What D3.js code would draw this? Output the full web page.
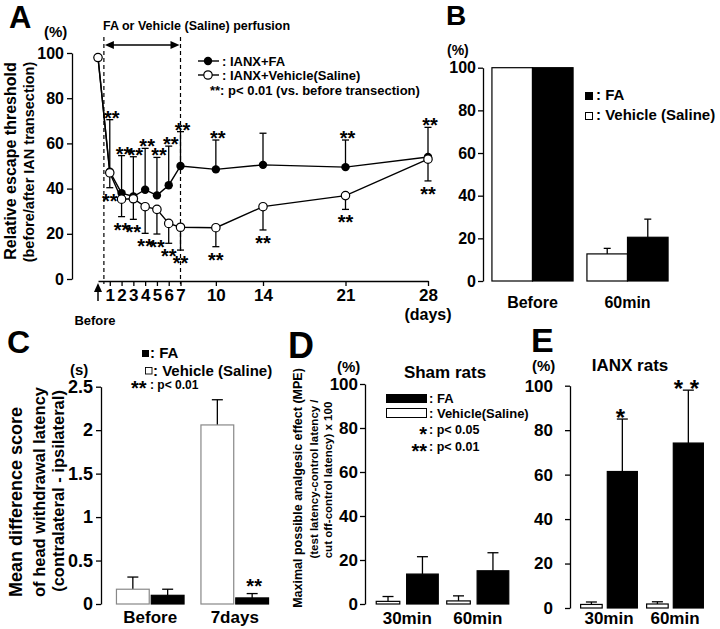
<!DOCTYPE html>
<html><head><meta charset="utf-8">
<script src="https://cdn.jsdelivr.net/npm/d3@7"></script>
<style>
body{margin:0;background:#fff}
svg{display:block}
text{font-family:"Liberation Sans",Arial,Helvetica,sans-serif;font-weight:bold;fill:#000}
</style></head><body>
<script>
// ---------- Panel A data ----------
const daysA = [0, 1, 2, 3, 4, 5, 6, 7, 10, 14, 21, 28];
const xTicksA = [1, 2, 3, 4, 5, 6, 7, 10, 14, 21, 28];
const yTicksA = [0, 20, 40, 60, 80, 100];
const faMeanA = [98, 47.5, 38, 36.5, 39.5, 37, 41.5, 50, 48.5, 50.5, 49.5, 54];
const faSemA  = [0, 23, 16.6, 17.6, 18.3, 16.8, 17.3, 15.2, 13, 14, 12, 13.1];
const faSigA  = [0, 1, 1, 1, 1, 1, 1, 1, 1, 0, 1, 1];
const vehMeanA = [98, 47, 35.3, 35.5, 32, 30.8, 24.6, 22.9, 22.7, 32, 36.9, 53];
const vehSemA  = [0, 6.6, 7.7, 9.1, 11.8, 10.9, 8.8, 10.1, 8.4, 10.3, 6.1, 9.6];
const vehSigA  = [0, 1, 1, 1, 1, 1, 1, 1, 1, 1, 1, 1];
const perfusionDays = [0.5, 7];

// ---------- Panel B data ----------
const groupsB = ["Before", "60min"];
const vehB = [100, 12.7];
const vehErrB = [0, 2.6];
const faB = [100, 20.5];
const faErrB = [0, 8.5];
const yTicksB = [0, 20, 40, 60, 80, 100];

// ---------- Panel C data ----------
const groupsC = ["Before", "7days"];
const vehC = [0.17, 2.06];
const vehErrC = [0.14, 0.29];
const faC = [0.10, 0.07];
const faErrC = [0.07, 0.05];
const faSigC = ["", "**"];
const yTicksC = [0, 0.5, 1, 1.5, 2, 2.5];

// ---------- Panel D data ----------
const groupsD = ["30min", "60min"];
const vehD = [1.2, 1.4];
const vehErrD = [2.2, 2.3];
const faD = [13.6, 15.1];
const faErrD = [7.9, 8.2];
const yTicksD = [0, 20, 40, 60, 80, 100];

// ---------- Panel E data ----------
const groupsE = ["30min", "60min"];
const vehE = [1.6, 1.8];
const vehErrE = [1.1, 1.0];
const faE = [61.4, 74.2];
const faErrE = [23.6, 23.8];
const faSigE = ["*", "* *"];
const yTicksE = [0, 20, 40, 60, 80, 100];

// ================= drawing =================
const FONT = '"Liberation Sans",Arial,Helvetica,sans-serif';
const svg = d3.select("body").append("svg").attr("width", 720).attr("height", 629);

function label(g, x, y, s, size, anchor, rot) {
  const t = g.append("text").attr("x", x).attr("y", y).attr("font-size", size)
    .attr("text-anchor", anchor || "start").text(s);
  if (rot) t.attr("transform", `rotate(${rot},${x},${y})`);
  return t;
}
function st(g, size) {
  g.attr("font-family", FONT).attr("font-size", size).attr("font-weight", "bold");
  g.selectAll("text").attr("fill", "#000");
  g.select(".domain").attr("stroke", "#000").attr("stroke-width", 1.3);
  g.selectAll(".tick line").attr("stroke", "#000").attr("stroke-width", 1.3);
}

// ---------- Panel A ----------
(function () {
  const g = svg.append("g");
  const x = d3.scaleLinear().domain([0, 28]).range([98, 428]);
  const y = d3.scaleLinear().domain([0, 100]).range([279, 53]);
  g.append("g").attr("transform", "translate(72,0)")
    .call(d3.axisLeft(y).tickValues(yTicksA).tickSize(5).tickSizeOuter(0).tickPadding(3)).call(st, 16);
  g.append("g").attr("transform", "translate(0,281)")
    .call(d3.axisBottom(x).tickValues(xTicksA).tickSize(5).tickSizeOuter(0).tickPadding(3)).call(st, 17);
  label(g, x(28), 320, "(days)", 16, "middle");

  // Before arrow
  const bx = x(0);
  g.append("line").attr("x1", bx).attr("x2", bx).attr("y1", 301).attr("y2", 290).attr("stroke", "#000").attr("stroke-width", 1.5);
  g.append("path").attr("d", `M${bx},283 L${bx - 4},292 L${bx + 4},292 Z`).attr("fill", "#000");
  label(g, bx - 3, 325, "Before", 13, "middle");

  // perfusion dashed lines & double arrow
  perfusionDays.forEach(d => {
    g.append("line").attr("x1", x(d)).attr("x2", x(d)).attr("y1", 37).attr("y2", 284)
      .attr("stroke", "#000").attr("stroke-width", 1.2).attr("stroke-dasharray", "4,3");
  });
  const ax0 = x(perfusionDays[0]) + 1, ax1 = x(perfusionDays[1]) - 1, ay = 45;
  g.append("line").attr("x1", ax0 + 6).attr("x2", ax1 - 6).attr("y1", ay).attr("y2", ay).attr("stroke", "#000").attr("stroke-width", 1.3);
  g.append("path").attr("d", `M${ax0},${ay} L${ax0 + 9},${ay - 4} L${ax0 + 9},${ay + 4} Z`).attr("fill", "#000");
  g.append("path").attr("d", `M${ax1},${ay} L${ax1 - 9},${ay - 4} L${ax1 - 9},${ay + 4} Z`).attr("fill", "#000");
  label(g, 103, 30, "FA or Vehicle (Saline) perfusion", 12.5);

  const fa = daysA.map((d, i) => ({ d, m: faMeanA[i], e: faSemA[i], s: faSigA[i] }));
  const veh = daysA.map((d, i) => ({ d, m: vehMeanA[i], e: vehSemA[i], s: vehSigA[i] }));
  const line = d3.line().x(p => x(p.d)).y(p => y(p.m));

  // error bars
  const cap = 3.5;
  fa.filter(p => p.e > 0).forEach(p => {
    const yt = y(p.m + p.e);
    g.append("line").attr("x1", x(p.d)).attr("x2", x(p.d)).attr("y1", y(p.m)).attr("y2", yt).attr("stroke", "#000").attr("stroke-width", 1.3);
    g.append("line").attr("x1", x(p.d) - cap).attr("x2", x(p.d) + cap).attr("y1", yt).attr("y2", yt).attr("stroke", "#000").attr("stroke-width", 1.3);
  });
  veh.filter(p => p.e > 0).forEach(p => {
    const yb = y(p.m - p.e);
    g.append("line").attr("x1", x(p.d)).attr("x2", x(p.d)).attr("y1", y(p.m)).attr("y2", yb).attr("stroke", "#000").attr("stroke-width", 1.3);
    g.append("line").attr("x1", x(p.d) - cap).attr("x2", x(p.d) + cap).attr("y1", yb).attr("y2", yb).attr("stroke", "#000").attr("stroke-width", 1.3);
  });

  g.append("path").attr("d", line(fa)).attr("fill", "none").attr("stroke", "#000").attr("stroke-width", 1.4);
  g.append("path").attr("d", line(veh)).attr("fill", "none").attr("stroke", "#000").attr("stroke-width", 1.4);
  g.selectAll(".fa").data(fa).enter().append("circle").attr("cx", p => x(p.d)).attr("cy", p => y(p.m)).attr("r", 4.2).attr("fill", "#000");
  g.selectAll(".veh").data(veh).enter().append("circle").attr("cx", p => x(p.d)).attr("cy", p => y(p.m)).attr("r", 4.2)
    .attr("fill", "#fff").attr("stroke", "#000").attr("stroke-width", 1.2);

  // significance stars
  fa.filter(p => p.s).forEach(p => label(g, x(p.d) + 2, y(p.m + p.e) + 5, "**", 20, "middle"));
  veh.filter(p => p.s).forEach(p => label(g, x(p.d), y(p.m - p.e) + 20, "**", 20, "middle"));

  // legend
  g.append("line").attr("x1", 198).attr("x2", 219).attr("y1", 61).attr("y2", 61).attr("stroke", "#000").attr("stroke-width", 1.4);
  g.append("circle").attr("cx", 208).attr("cy", 61).attr("r", 4.2).attr("fill", "#000");
  label(g, 222, 66, ": IANX+FA", 13);
  g.append("line").attr("x1", 198).attr("x2", 219).attr("y1", 75).attr("y2", 75).attr("stroke", "#000").attr("stroke-width", 1.4);
  g.append("circle").attr("cx", 208).attr("cy", 75).attr("r", 4.2).attr("fill", "#fff").attr("stroke", "#000").attr("stroke-width", 1.2);
  label(g, 222, 80, ": IANX+Vehicle(Saline)", 13);
  label(g, 210, 95, "**: p< 0.01 (vs. before transection)", 13);

  label(g, 9, 28, "A", 31);
  label(g, 44, 37, "(%)", 15);
  label(g, 16, 161, "Relative escape threshold", 16, "middle", -90);
  label(g, 34, 162, "(before/after IAN transection)", 14.5, "middle", -90);
})();

// ---------- generic bar panel ----------
function barPanel(o) {
  const g = svg.append("g");
  const y = d3.scaleLinear().domain(o.domain).range(o.yRange);
  const xb = d3.scaleBand().domain(o.groups).range(o.xRange).paddingInner(o.padIn).paddingOuter(o.padOut);
  const bw = xb.bandwidth();
  g.append("g").attr("transform", `translate(${o.axisX},0)`)
    .call(d3.axisLeft(y).tickValues(o.ticks).tickFormat(o.fmt || (d => d)).tickSize(5).tickSizeOuter(0).tickPadding(o.tickPad))
    .call(st, o.tickFont);
  o.series.forEach(s => {
    o.groups.forEach((grp, i) => {
      const x0 = xb(grp) + s.frac[0] * bw, w = (s.frac[1] - s.frac[0]) * bw;
      const v = s.vals[i], e = s.errs[i], cx = x0 + w / 2;
      if (e > 0) {
        const yt = y(v + e);
        g.append("line").attr("x1", cx).attr("x2", cx).attr("y1", y(v)).attr("y2", yt).attr("stroke", "#000").attr("stroke-width", 1.3);
        g.append("line").attr("x1", cx - o.cap / 2).attr("x2", cx + o.cap / 2).attr("y1", yt).attr("y2", yt).attr("stroke", "#000").attr("stroke-width", 1.3);
      }
      g.append("rect").attr("x", x0).attr("y", y(v)).attr("width", w).attr("height", Math.max(0, y(0) - y(v)))
        .attr("fill", s.fill).attr("stroke", s.stroke).attr("stroke-width", 1.2);
      if (s.sig && s.sig[i]) label(g, cx + (s.sigDx || 0), y(v + e) + o.sigDy, s.sig[i], o.sigSize, "middle");
    });
  });
  o.groups.forEach(grp => label(g, xb(grp) + bw / 2, o.labelY, grp, o.labelFont, "middle"));
  return g;
}

// ---------- Panel B ----------
(function () {
  const g = barPanel({
    domain: [0, 100], yRange: [281, 67.7], ticks: yTicksB, axisX: 483, tickPad: 2, tickFont: 16,
    groups: groupsB, xRange: [485, 675], padIn: 0.146, padOut: 0.073, cap: 7,
    series: [
      { vals: vehB, errs: vehErrB, fill: "#fff", stroke: "#000", frac: [0, 0.5] },
      { vals: faB, errs: faErrB, fill: "#000", stroke: "#000", frac: [0.5, 1] }
    ],
    labelY: 308, labelFont: 16
  });
  g.append("rect").attr("x", 585).attr("y", 92).attr("width", 8).attr("height", 8).attr("fill", "#000");
  label(g, 596, 100, ": FA", 15);
  g.append("rect").attr("x", 585.5).attr("y", 112.5).attr("width", 7).attr("height", 7).attr("fill", "#fff").attr("stroke", "#000").attr("stroke-width", 1);
  label(g, 596, 120, ": Vehicle (Saline)", 15);
  label(g, 446, 25, "B", 28);
  label(g, 447, 55, "(%)", 14);
})();

// ---------- Panel C ----------
(function () {
  const g = barPanel({
    domain: [0, 2.5], yRange: [604, 386.7], ticks: yTicksC, axisX: 101, tickPad: 3, tickFont: 18,
    fmt: d3.format("~g"),
    groups: groupsC, xRange: [108, 277], padIn: 0.2, padOut: 0.1, cap: 11,
    series: [
      { vals: vehC, errs: vehErrC, fill: "#fff", stroke: "#888", frac: [0, 0.485] },
      { vals: faC, errs: faErrC, fill: "#000", stroke: "#000", frac: [0.515, 1], sig: faSigC, sigDx: 2 }
    ],
    sigDy: -1, sigSize: 20,
    labelY: 623, labelFont: 17
  });
  g.append("rect").attr("x", 142).attr("y", 350).attr("width", 7).attr("height", 7).attr("fill", "#000");
  label(g, 150, 358, ": FA", 15);
  g.append("rect").attr("x", 145.5).attr("y", 367.5).attr("width", 6.5).attr("height", 6.5).attr("fill", "#fff").attr("stroke", "#000").attr("stroke-width", 0.9);
  label(g, 153, 376, ": Vehicle (Saline)", 15);
  label(g, 131, 395, "**", 20);
  label(g, 150, 389, ": p< 0.01", 12);
  label(g, 70, 375, "(s)", 15);
  label(g, 7, 353, "C", 32);
  label(g, 22, 502, "Mean difference score", 18, "middle", -90);
  label(g, 45, 492, "of  head withdrawal latency", 16.5, "middle", -90);
  label(g, 64, 491, "(contralateral - ipsilateral)", 16.5, "middle", -90);
})();

// ---------- Panel D ----------
(function () {
  const g = barPanel({
    domain: [0, 100], yRange: [604, 384], ticks: yTicksD, axisX: 365, tickPad: 2, tickFont: 17,
    groups: groupsD, xRange: [372, 513], padIn: 0.12, padOut: 0.06, cap: 11,
    series: [
      { vals: vehD, errs: vehErrD, fill: "#fff", stroke: "#000", frac: [0, 0.38] },
      { vals: faD, errs: faErrD, fill: "#000", stroke: "#000", frac: [0.49, 1] }
    ],
    sigDy: 0, sigSize: 20,
    labelY: 624, labelFont: 17
  });
  label(g, 445, 378, "Sham rats", 17, "middle");
  g.append("rect").attr("x", 386).attr("y", 394).attr("width", 41).attr("height", 9).attr("fill", "#000");
  label(g, 429, 403, ": FA", 13);
  g.append("rect").attr("x", 386.5).attr("y", 408.5).attr("width", 40).attr("height", 9).attr("fill", "#fff").attr("stroke", "#000").attr("stroke-width", 1);
  label(g, 429, 418, ": Vehicle(Saline)", 13);
  label(g, 427, 441, "*", 20, "end");
  label(g, 429, 434, ": p< 0.05", 12.5);
  label(g, 427, 458, "**", 20, "end");
  label(g, 429, 451, ": p< 0.01", 12.5);
  label(g, 288, 358, "D", 36);
  label(g, 337, 372, "(%)", 15);
  label(g, 302, 488, "Maximal possible analgesic effect (MPE)", 12.5, "middle", -90);
  label(g, 318, 479, "(test latency-control latency /", 11.5, "middle", -90);
  label(g, 332, 480, "cut off-control latency) x 100", 11.5, "middle", -90);
})();

// ---------- Panel E ----------
(function () {
  const g = barPanel({
    domain: [0, 100], yRange: [608, 385.7], ticks: yTicksE, axisX: 570, tickPad: 12, tickFont: 17,
    groups: groupsE, xRange: [576, 708], padIn: 0.14, padOut: 0.07, cap: 11,
    series: [
      { vals: vehE, errs: vehErrE, fill: "#fff", stroke: "#000", frac: [0, 0.38] },
      { vals: faE, errs: faErrE, fill: "#000", stroke: "#000", frac: [0.47, 1], sig: faSigE, sigDx: -2 }
    ],
    sigDy: 7, sigSize: 24,
    labelY: 624, labelFont: 17
  });
  label(g, 630, 371, "IANX rats", 17, "middle");
  label(g, 531, 352, "E", 34);
  label(g, 532, 371, "(%)", 15);
})();
</script>
</body></html>
